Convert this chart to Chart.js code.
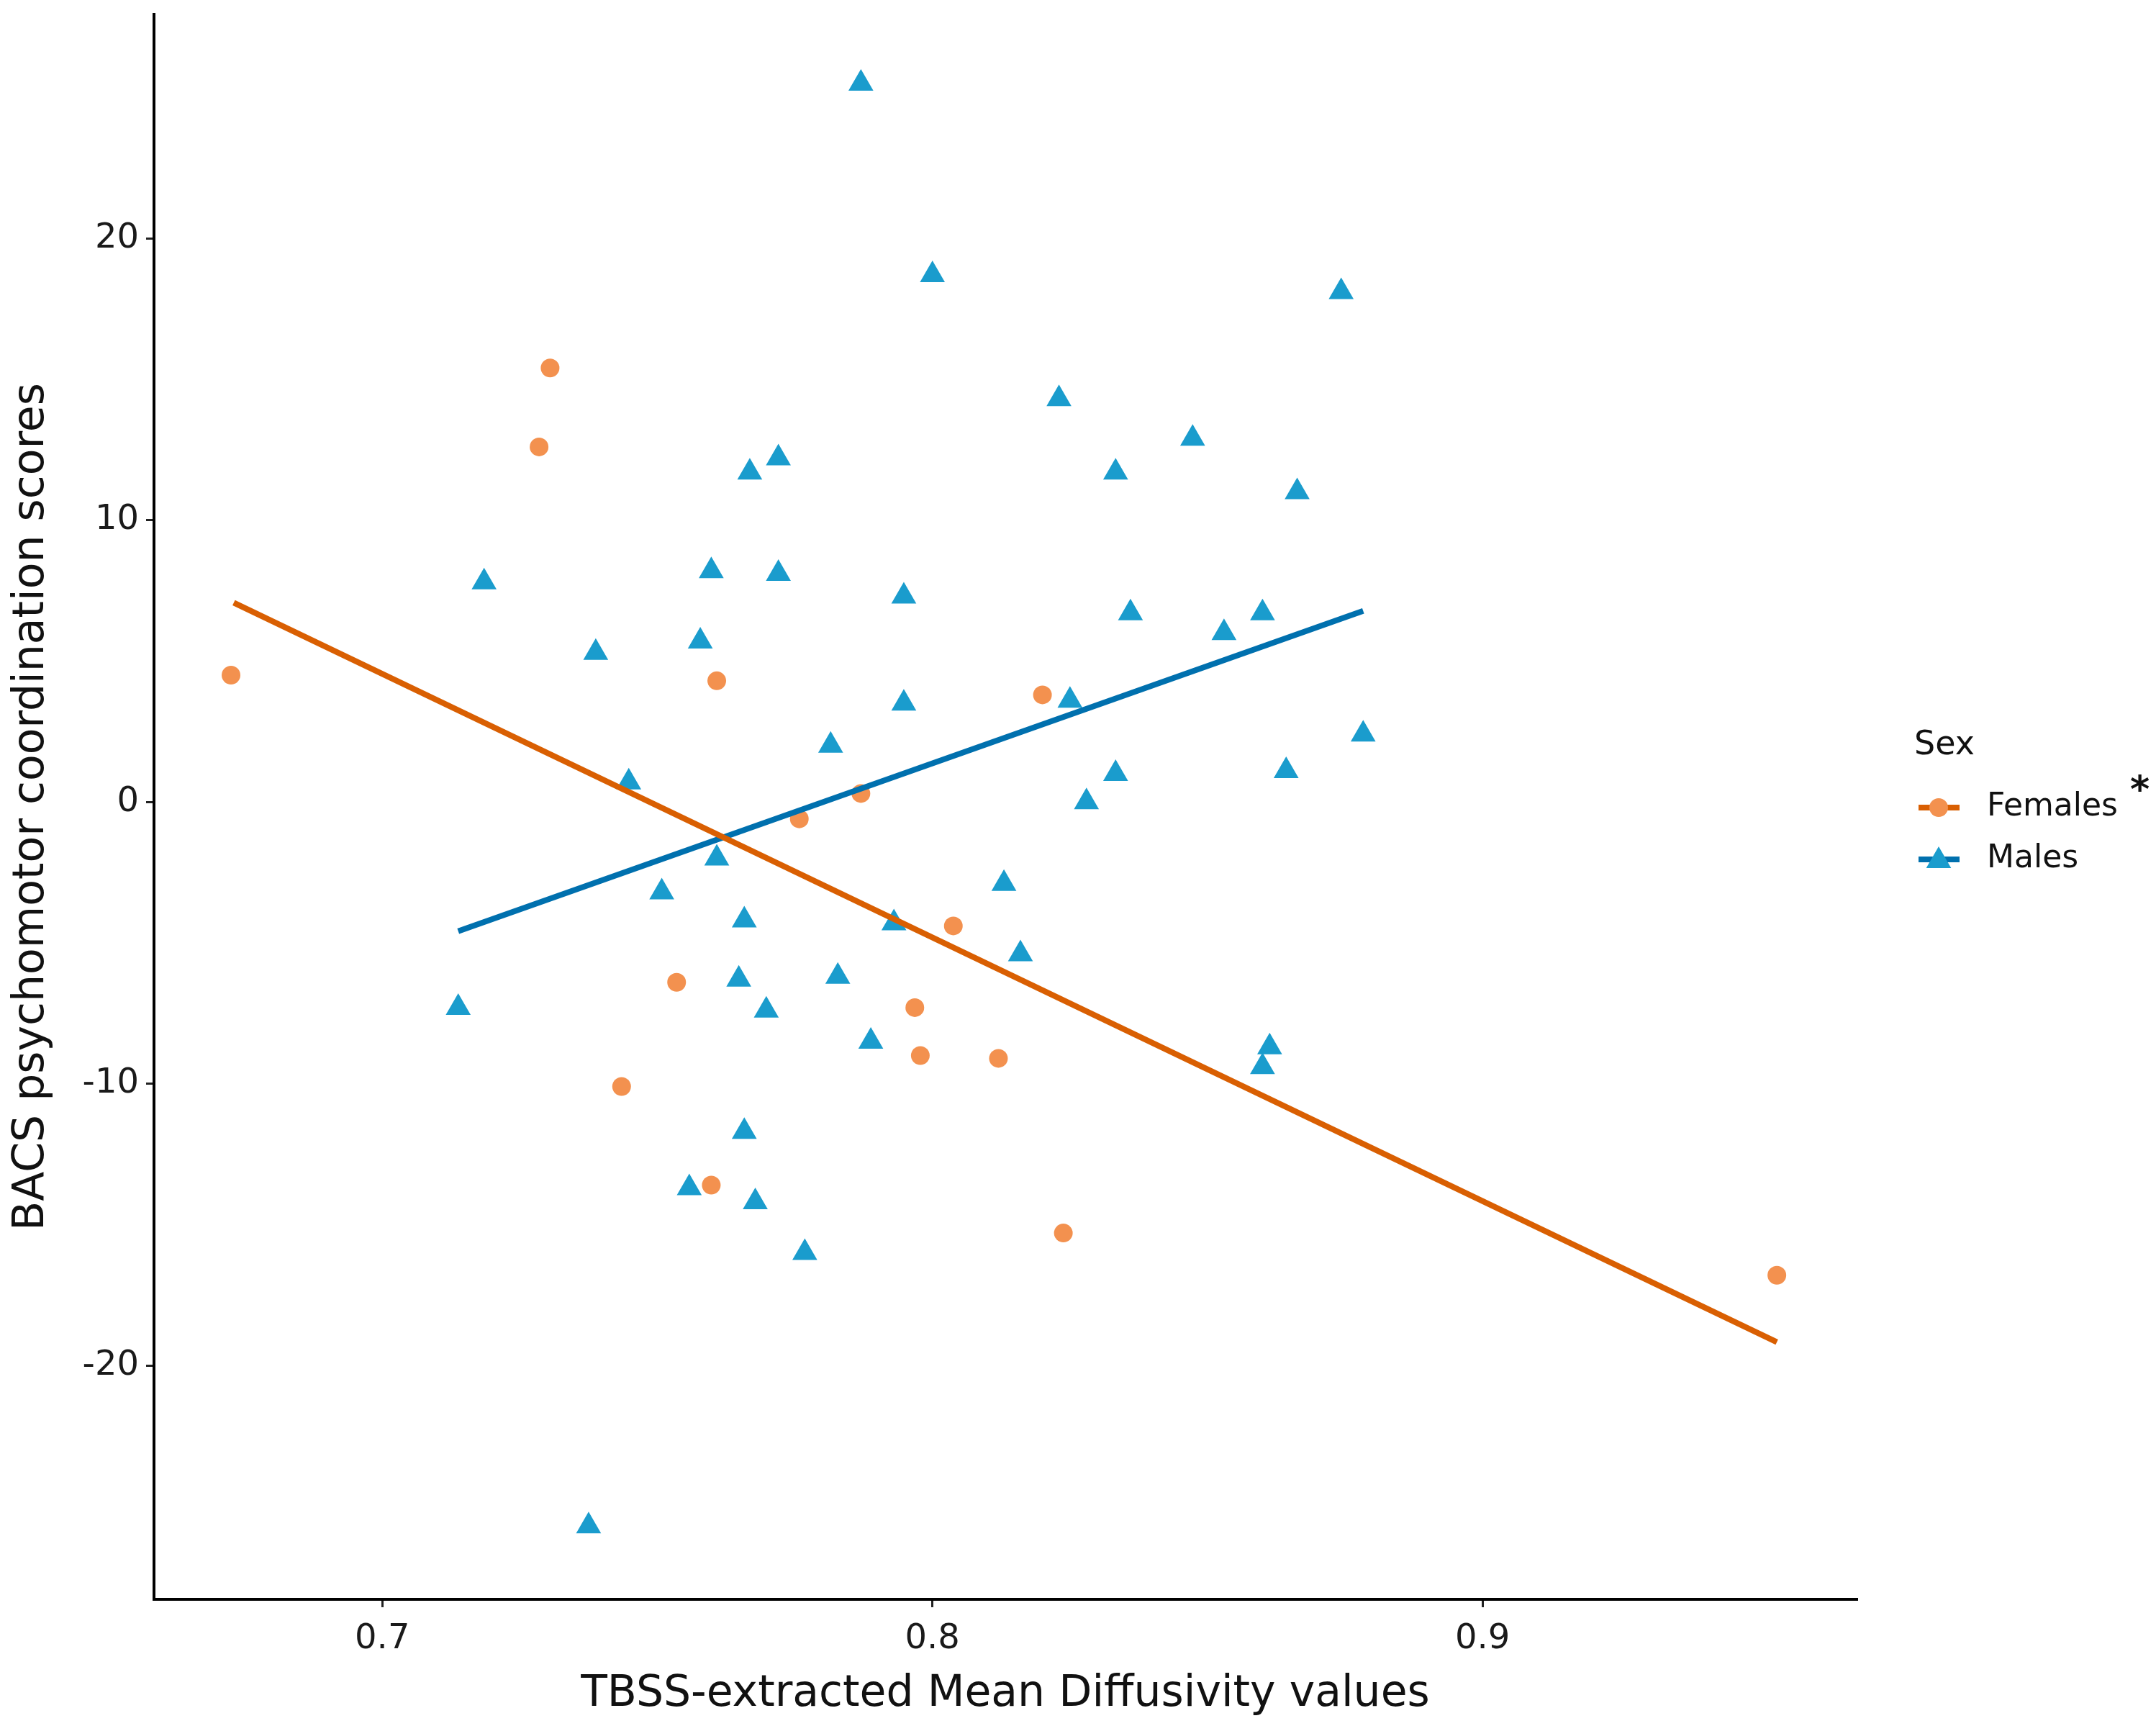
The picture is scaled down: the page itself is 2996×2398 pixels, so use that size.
<!DOCTYPE html>
<html>
<head>
<meta charset="utf-8">
<script src="https://cdn.jsdelivr.net/npm/chart.js@4/dist/chart.umd.min.js"></script>
<style>
  html, body { margin: 0; padding: 0; background: #fff; }
  #wrap { position: relative; width: 2996px; height: 2398px; }
</style>
</head>
<body>
<div id="wrap"><canvas id="mdChart"></canvas></div>
<script>
// Females (orange circles)
const femaleX = [0.6725, 0.7305, 0.7285, 0.7608, 0.8200, 0.7870, 0.7758, 0.8038,
                 0.7535, 0.7968, 0.7978, 0.8120, 0.7435, 0.7598, 0.8238, 0.9535];
const femaleY = [4.5, 15.4, 12.6, 4.3, 3.8, 0.3, -0.6, -4.4,
                 -6.4, -7.3, -9.0, -9.1, -10.1, -13.6, -15.3, -16.8];
// Males (blue triangles)
const maleX = [0.7870, 0.8000, 0.8743, 0.8230, 0.8473, 0.7720, 0.7668, 0.8333, 0.8663,
               0.7598, 0.7720, 0.7185, 0.7948, 0.8360, 0.8600, 0.8530, 0.7578, 0.7388,
               0.7948, 0.8250, 0.8783, 0.7815, 0.7448, 0.8643, 0.8333, 0.8280, 0.7608,
               0.8130, 0.7508, 0.7658, 0.7930, 0.8160, 0.7648, 0.7828, 0.7138, 0.7698,
               0.7888, 0.8613, 0.8600, 0.7658, 0.7558, 0.7678, 0.7768, 0.7375];
const maleY = [25.5, 18.7, 18.1, 14.3, 12.9, 12.2, 11.7, 11.7, 11.0,
               8.2, 8.1, 7.8, 7.3, 6.7, 6.7, 6.0, 5.7, 5.3,
               3.5, 3.6, 2.4, 2.0, 0.7, 1.1, 1.0, 0.0, -2.0,
               -2.9, -3.2, -4.2, -4.3, -5.4, -6.3, -6.2, -7.3, -7.4,
               -8.5, -8.7, -9.4, -11.7, -13.7, -14.2, -16.0, -25.7];
// fitted lines (end points)
const femaleFitX = [0.6730, 0.9535];
const femaleFitY = [7.07, -19.17];
const maleFitX = [0.7138, 0.8783];
const maleFitY = [-4.59, 6.78];

const xTicks = [0.7, 0.8, 0.9];
const yTicks = [-20, -10, 0, 10, 20];
const groups = ['Females', 'Males'];

const ORANGE_PT = '#F3914F';
const ORANGE_LN = '#D95F02';
const BLUE_PT = '#1A9CCD';
const BLUE_LN = '#0070AE';

function toPoints(xs, ys) {
    return xs.map((x, i) => ({x: x, y: ys[i]}));
}

// hand drawn ggplot-style legend on the right
const sexLegend = {
    id: 'sexLegend',
    afterDraw(chart) {
        const c = chart.ctx;
        c.save();
        c.fillStyle = '#111';
        c.textBaseline = 'middle';
        c.font = '46px "DejaVu Sans"';
        c.fillText('Sex', 2660, 1036);
        const rows = [
            {label: groups[0], y: 1122, line: ORANGE_LN, pt: ORANGE_PT, shape: 'circle'},
            {label: groups[1], y: 1194, line: BLUE_LN, pt: BLUE_PT, shape: 'triangle'}
        ];
        rows.forEach(r => {
            c.strokeStyle = r.line;
            c.lineWidth = 8;
            c.beginPath();
            c.moveTo(2666, r.y);
            c.lineTo(2723, r.y);
            c.stroke();
            c.fillStyle = r.pt;
            Chart.helpers.drawPoint(c, {pointStyle: r.shape, radius: r.shape === 'circle' ? 13 : 20, rotation: 0, borderWidth: 0}, 2694, r.y + (r.shape === 'circle' ? 0 : 2));
            c.fillStyle = '#111';
            c.font = '44px "DejaVu Sans"';
            c.fillText(r.label, 2761, r.y);
        });
        c.font = 'bold 52px "DejaVu Sans"';
        c.fillText('*', 2960, 1100);
        c.restore();
    }
};

const ctx = document.getElementById('mdChart');
new Chart(ctx, {
    type: 'scatter',
    data: {
        datasets: [
            {
                type: 'line',
                label: groups[0] + ' fit',
                data: toPoints(femaleFitX, femaleFitY),
                borderColor: ORANGE_LN,
                borderWidth: 8,
                pointRadius: 0,
                fill: false
            },
            {
                type: 'line',
                label: groups[1] + ' fit',
                data: toPoints(maleFitX, maleFitY),
                borderColor: BLUE_LN,
                borderWidth: 8,
                pointRadius: 0,
                fill: false
            },
            {
                label: groups[0],
                data: toPoints(femaleX, femaleY),
                pointStyle: 'circle',
                pointRadius: 13,
                backgroundColor: ORANGE_PT,
                borderWidth: 0
            },
            {
                label: groups[1],
                data: toPoints(maleX, maleY),
                pointStyle: 'triangle',
                pointRadius: 20,
                backgroundColor: BLUE_PT,
                borderWidth: 0
            }
        ]
    },
    options: {
        responsive: true,
        maintainAspectRatio: false,
        devicePixelRatio: 1,
        animation: false,
        layout: {
            padding: {left: 0, top: 19, right: 416, bottom: 0}
        },
        plugins: {
            legend: {display: false},
            tooltip: {enabled: false}
        },
        scales: {
            x: {
                type: 'linear',
                min: 0.6585,
                max: 0.968,
                afterBuildTicks: s => { s.ticks = xTicks.map(v => ({value: v})); },
                afterFit: s => { s.height = 176; s.paddingLeft = 0; s.paddingRight = 0; },
                ticks: {
                    padding: 16,
                    color: '#1a1a1a',
                    font: {family: 'DejaVu Sans', size: 48},
                    callback: v => v.toFixed(1)
                },
                grid: {drawOnChartArea: false, drawTicks: true, tickLength: 11, color: '#222', lineWidth: 3},
                border: {display: true, color: '#000', width: 4},
                title: {
                    display: true,
                    text: 'TBSS-extracted Mean Diffusivity values',
                    color: '#111',
                    font: {family: 'DejaVu Sans', size: 60},
                    padding: {top: 0, bottom: 8}
                }
            },
            y: {
                type: 'linear',
                min: -28.3,
                max: 27.95,
                afterBuildTicks: s => { s.ticks = yTicks.map(v => ({value: v})); },
                afterFit: s => { s.width = 214; s.paddingTop = 0; s.paddingBottom = 0; },
                ticks: {
                    padding: 10,
                    color: '#1a1a1a',
                    font: {family: 'DejaVu Sans', size: 48},
                    callback: v => String(v)
                },
                grid: {drawOnChartArea: false, drawTicks: true, tickLength: 11, color: '#222', lineWidth: 3},
                border: {display: true, color: '#000', width: 4},
                title: {
                    display: true,
                    text: 'BACS psychomotor coordination scores',
                    color: '#111',
                    font: {family: 'DejaVu Sans', size: 60},
                    padding: {top: 8, bottom: 0}
                }
            }
        }
    },
    plugins: [sexLegend]
});
</script>
</body>
</html>
